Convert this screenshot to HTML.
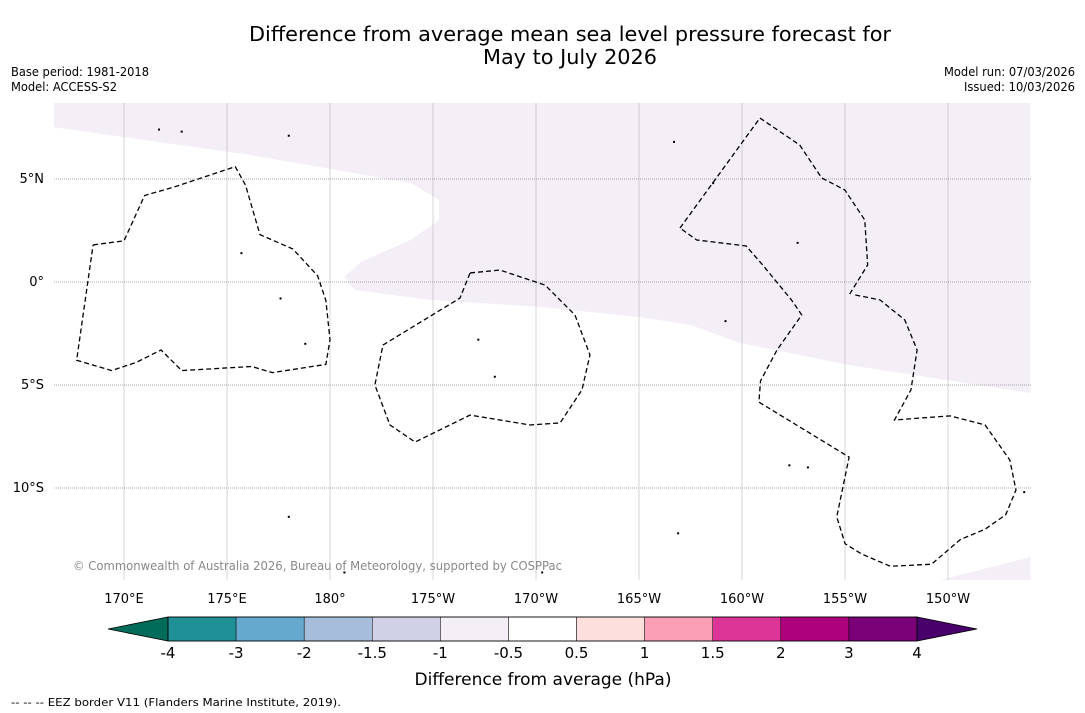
<!DOCTYPE html>
<html><head><meta charset="utf-8"><style>
html,body{margin:0;padding:0;background:#fff;}
svg{display:block;font-family:"DejaVu Sans","Liberation Sans",sans-serif;}
</style></head><body>
<svg id="chart" width="1085" height="713" viewBox="0 0 1085 713">
<rect width="1085" height="713" fill="#fff"/>
<text x="570" y="41" font-size="20" text-anchor="middle" textLength="642" lengthAdjust="spacingAndGlyphs">Difference from average mean sea level pressure forecast for</text>
<text x="570" y="64" font-size="20" text-anchor="middle" textLength="174" lengthAdjust="spacingAndGlyphs">May to July 2026</text>
<text x="11" y="76" font-size="12" textLength="138" lengthAdjust="spacingAndGlyphs">Base period: 1981-2018</text>
<text x="11" y="91" font-size="12" textLength="106" lengthAdjust="spacingAndGlyphs">Model: ACCESS-S2</text>
<text x="1075" y="76" font-size="12" text-anchor="end" textLength="131" lengthAdjust="spacingAndGlyphs">Model run: 07/03/2026</text>
<text x="1075" y="91" font-size="12" text-anchor="end" textLength="111" lengthAdjust="spacingAndGlyphs">Issued: 10/03/2026</text>
<defs><clipPath id="mapclip"><rect x="54" y="103" width="977" height="477"/></clipPath></defs>
<g id="map" clip-path="url(#mapclip)"></g>
<g id="axes"></g>
<g id="cbar"></g>
<text x="543" y="685" font-size="17" text-anchor="middle">Difference from average (hPa)</text>
<text x="11" y="706" font-size="11" textLength="330" lengthAdjust="spacingAndGlyphs">--  --  -- EEZ border V11 (Flanders Marine Institute, 2019).</text>
</svg>
<script>
const lonTicks=[170,175,180,185,190,195,200,205,210];
const lonLabels=["170°E","175°E","180°","175°W","170°W","165°W","160°W","155°W","150°W"];
const latTicks=[5,0,-5,-10];
const latLabels=["5°N","0°","5°S","10°S"];
const levels=["-4","-3","-2","-1.5","-1","-0.5","0.5","1","1.5","2","3","4"];
const levelColors=["#1f9196","#66a9cf","#a6bddb","#d0d1e6","#f4eef6","#ffffff","#fde0dd","#fa9fb5","#dd3497","#ae017e","#7a0177"];
const extendColors=["#016c59","#49006a"];
// anomaly region (-1 to -0.5 hPa) boundaries in lon/lat
const regionLon=[166.6,166.6,176.1,183.9,185.3,185.3,183.9,181.5,180.7,181.2,184.9,190.2,195.0,197.5,199.9,205.2,214.0,214.0];
const regionLat=[8.7,7.52,6.17,4.81,3.98,3.01,2.04,0.97,0.24,-0.39,-0.87,-1.21,-1.70,-2.09,-2.96,-4.03,-5.39,8.7];
const region2Lon=[209.5,214.0,214.0];
const region2Lat=[-14.5,-13.35,-14.5];
// EEZ borders (lon/lat)
const eezA=[[168.5,1.8],[170.0,2.0],[171.0,4.2],[172.4,4.6],[175.4,5.6],[175.9,4.7],[176.6,2.3],[178.2,1.6],[179.4,0.3],[179.8,-0.9],[180.0,-2.8],[179.8,-4.0],[177.2,-4.4],[176.2,-4.1],[172.8,-4.3],[171.8,-3.3],[170.6,-3.9],[169.4,-4.3],[167.7,-3.8],[168.5,1.8]];
const eezB=[[186.8,0.44],[188.25,0.58],[190.44,-0.15],[191.89,-1.6],[192.62,-3.54],[192.23,-5.24],[191.17,-6.84],[189.71,-6.94],[186.8,-6.46],[184.13,-7.77],[182.91,-6.94],[182.18,-5.0],[182.57,-3.06],[186.31,-0.78],[186.8,0.44]];
const eezC=[[196.99,2.62],[200.87,7.96],[202.8,6.65],[203.87,5.05],[204.99,4.47],[205.96,3.01],[206.1,0.83],[205.2,-0.63]];
const eezD=[[205.5,-0.63],[206.7,-0.87],[207.9,-1.84],[208.5,-3.3],[208.2,-5.24],[207.4,-6.7],[208.7,-6.6],[210.1,-6.5],[211.8,-6.94],[213.0,-8.64],[213.3,-10.1],[212.8,-11.3],[211.8,-12.0],[210.6,-12.5],[209.2,-13.7],[207.2,-13.8],[205.8,-13.2],[205.0,-12.7],[204.6,-11.4],[205.2,-8.5],[200.82,-5.83],[200.9,-4.8],[201.7,-3.3],[202.9,-1.6],[202.4,-0.87],[201.0,0.83],[200.2,1.75],[197.8,2.04],[196.99,2.62]];
const islands=[[171.7,7.4],[172.8,7.3],[178.0,7.1],[175.7,1.4],[177.6,-0.8],[178.8,-3.0],[187.2,-2.8],[188.0,-4.6],[196.9,-12.2],[202.3,-8.9],[199.2,-1.9],[202.7,1.9],[190.3,-14.1],[180.7,-14.1],[165.8,-13.0],[166.2,-14.3],[178.0,-11.4],[203.2,-9.0],[213.7,-10.2],[196.7,6.8],[198.6,4.8]];

const X=lon=>124+(lon-170)*20.6;
const Y=lat=>282-lat*20.6;
const NS="http://www.w3.org/2000/svg";
function mk(tag,attrs,parent){const e=document.createElementNS(NS,tag);for(const k in attrs)e.setAttribute(k,attrs[k]);parent.appendChild(e);return e;}
const map=document.getElementById('map');
const axes=document.getElementById('axes');
const cbar=document.getElementById('cbar');

mk('rect',{x:54,y:103,width:977,height:477,fill:'#ffffff'},map);
let pts=regionLon.map((l,i)=>X(l)+','+Y(regionLat[i])).join(' ');
let reg=mk('polygon',{points:pts,fill:'#f4eef6'},map);


let pts2=region2Lon.map((l,i)=>X(l)+','+Y(region2Lat[i])).join(' ');
let reg2=mk('polygon',{points:pts2,fill:'#f4eef6'},map);



lonTicks.forEach((lon,i)=>{
  const g=mk('line',{x1:X(lon),x2:X(lon),y1:103,y2:580,stroke:'#aaa',"stroke-width":0.5},map);
  
  
  const t=mk('text',{x:X(lon),y:603,"font-size":13,"text-anchor":"middle"},axes);
  t.textContent=lonLabels[i];
  
  
});
latTicks.forEach((lat,i)=>{
  const g=mk('line',{x1:54,x2:1031,y1:Y(lat),y2:Y(lat),stroke:'#555',"stroke-width":0.5,"stroke-dasharray":"1,1"},map);
  
  
  const t=mk('text',{x:44,y:Y(lat)+4,"font-size":13,"text-anchor":"end"},axes);
  t.textContent=latLabels[i];
  
  
});
[eezA,eezB,eezC,eezD].forEach(arr=>{
  const p=mk('polyline',{points:arr.map(q=>X(q[0])+','+Y(q[1])).join(' '),fill:'none',stroke:'#000',"stroke-width":1.3,"stroke-dasharray":"5,3"},map);
  
  
});
islands.forEach(q=>{
  const c=mk('rect',{x:X(q[0])-1,y:Y(q[1])-1,width:2,height:2,fill:'#000'},map);
  
  
});
const cr=mk('text',{x:73,y:570,"font-size":12,fill:'#888',textLength:489,lengthAdjust:'spacingAndGlyphs'},map);
cr.textContent='© Commonwealth of Australia 2026, Bureau of Meteorology, supported by COSPPac';



// colorbar
const cx0=168,cx1=917,cy=617,ch=24,n=levelColors.length,w=(cx1-cx0)/n;
const lt=mk('polygon',{points:`108,${cy+ch/2} ${cx0},${cy} ${cx0},${cy+ch}`,fill:extendColors[0],stroke:'#000',"stroke-width":0.8},cbar);


const rt=mk('polygon',{points:`977,${cy+ch/2} ${cx1},${cy} ${cx1},${cy+ch}`,fill:extendColors[1],stroke:'#000',"stroke-width":0.8},cbar);


levelColors.forEach((c,i)=>{
  const r=mk('rect',{x:cx0+i*w,y:cy,width:w,height:ch,fill:c,stroke:'#000',"stroke-width":0.5},cbar);
  
  
});
mk('rect',{x:cx0,y:cy,width:cx1-cx0,height:ch,fill:'none',stroke:'#000',"stroke-width":0.8},cbar);
levels.forEach((l,i)=>{
  const t=mk('text',{x:cx0+i*w,y:cy+ch+17,"font-size":15,"text-anchor":"middle"},cbar);
  t.textContent=l;
  
  
});
</script>
</body></html>
